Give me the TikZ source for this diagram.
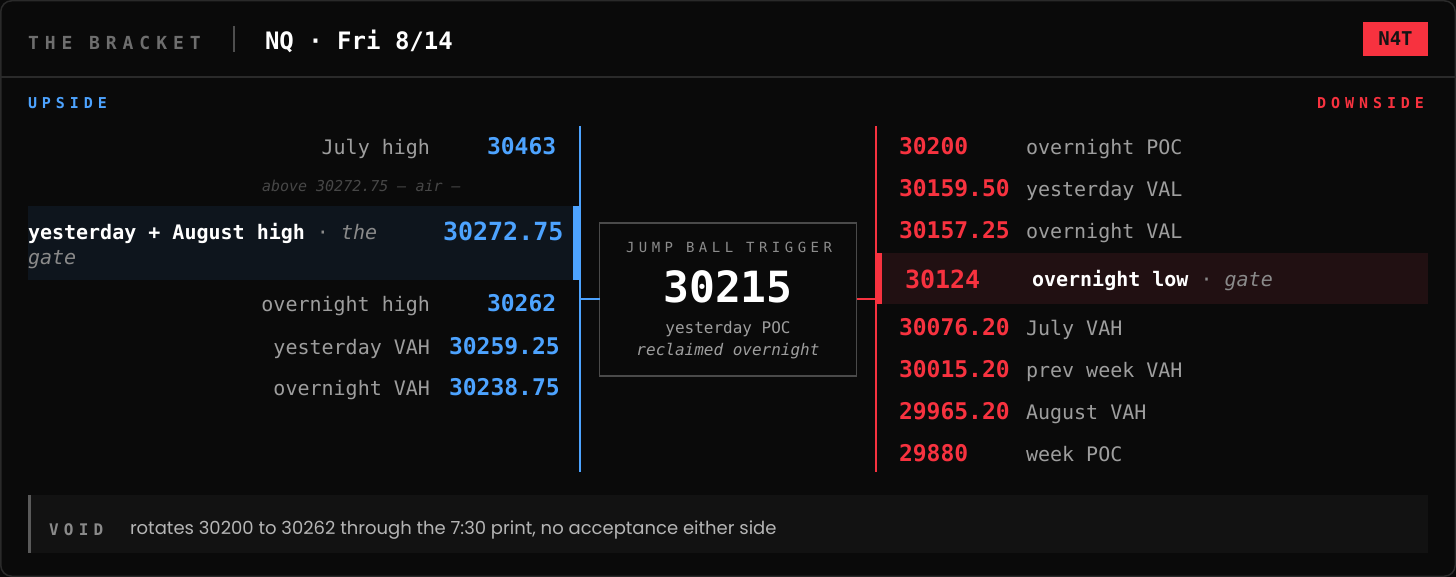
\documentclass[tikz,border=0pt]{standalone}
\usepackage{fontspec}
\setmainfont{DejaVu Sans Mono}
\newfontfamily\mono{DejaVu Sans Mono}
\newfontfamily\monotrk[LetterSpace=33]{DejaVu Sans Mono}
\newfontfamily\monotrb[LetterSpace=32]{DejaVu Sans Mono}
\newfontfamily\foot{Poppins}
\definecolor{pagebg}{HTML}{0A0A0A}
\definecolor{cardbg}{HTML}{0A0A0A}
\definecolor{cardedge}{HTML}{2A2A2A}
\definecolor{hdrgray}{HTML}{6E6E6E}
\definecolor{divgray}{HTML}{4E4E4E}
\definecolor{upblue}{HTML}{4DA3FF}
\definecolor{dnred}{HTML}{F7323F}
\definecolor{labgray}{HTML}{9E9E9E}
\definecolor{airgray}{HTML}{474747}
\definecolor{gategray}{HTML}{8A8A8A}
\definecolor{uphl}{HTML}{0E151D}
\definecolor{dnhl}{HTML}{211012}
\definecolor{boxedge}{HTML}{4A4A4A}
\definecolor{trigray}{HTML}{8C8C8C}
\definecolor{footbg}{HTML}{121212}
\definecolor{footbar}{HTML}{5A5A5A}
\definecolor{foottext}{HTML}{B5B5B5}
\definecolor{badgetext}{HTML}{141414}
\begin{document}
\begin{tikzpicture}[x=1pt,y=-1pt,
  every node/.style={inner sep=0pt,outer sep=0pt},
  lab/.style={font=\fontsize{20}{24}\selectfont\mono, text=labgray},
  upval/.style={font=\fontsize{23}{27}\selectfont\mono\bfseries, text=upblue, anchor=base west},
  dnval/.style={font=\fontsize{23}{27}\selectfont\mono\bfseries, text=dnred, anchor=base west},
  uplab/.style={lab, anchor=base east},
  dnlab/.style={lab, anchor=base west},
  tracked/.style={font=\fontsize{#1}{#1}\selectfont\monotrk\bfseries},
  blueline/.style={draw=upblue, line width=2pt},
  redline/.style={draw=dnred, line width=2pt}
]
\fill[pagebg] (0,0) rectangle (1456,577);
\useasboundingbox (0,0) rectangle (1456,577);
\draw[cardedge, fill=cardbg, rounded corners=11pt, line width=1.5pt] (0.75,0.75) rectangle (1455.25,576.25);

% header
\node[tracked=18, text=hdrgray, anchor=base west] (title) at (28,50) {THE BRACKET};
\draw[divgray, line width=2.5pt] (234,26) -- (234,52);
\node[font=\fontsize{24}{28}\selectfont\mono\bfseries, text=white, anchor=base west] (sym) at (265,50) {NQ · Fri 8/14};
\fill[dnred] (1363,22) rectangle (1428,56);
\node[font=\fontsize{19}{22}\selectfont\mono\bfseries, text=badgetext, anchor=base] (badge) at (1395.5,46) {N4T};
\draw[cardedge, line width=1.5pt] (1,77) -- (1455,77);

\node[tracked=15, text=upblue, anchor=base west] (upside) at (28,109) {UPSIDE};
\node[tracked=15, text=dnred, anchor=base east] (downside) at (1424,109) {DOWNSIDE};

% highlight rows
\fill[uphl] (28,206) rectangle (580,280);
\fill[upblue] (573,206) rectangle (581,280);
\fill[dnhl] (876,253) rectangle (1428,304);
\fill[dnred] (875,253) rectangle (882,304);

% spines
\coordinate (btop) at (580,126);
\coordinate (bbot) at (580,472);
\coordinate (rtop) at (876,126);
\coordinate (rbot) at (876,472);
\draw[blueline] (btop) -- (bbot);
\draw[redline] (rtop) -- (rbot);

% center box
\node[draw=boxedge, line width=1.5pt, fill=cardbg, minimum width=257pt, minimum height=153pt] (box) at (728,299.5) {};
\draw[blueline] (box.west) -- (box.west -| btop);
\draw[redline] (box.east) -- (box.east -| rtop);
\node[font=\fontsize{14}{16}\selectfont\monotrb, text=trigray, anchor=base] (trig) at (729,253) {JUMP BALL TRIGGER};
\node[font=\fontsize{43}{46}\selectfont\mono\bfseries, text=white, anchor=base] (poc) at (728,302) {30215};
\node[font=\fontsize{16}{19}\selectfont\mono, text=labgray, anchor=base] (ypoc) at (728,333) {yesterday POC};
\node[font=\fontsize{16}{19}\selectfont\mono\itshape, text=labgray, anchor=base] (recl) at (728,355) {reclaimed overnight};

% upside rows
\node[uplab] (l1) at (430,155) {July high};
\node[upval] (v1) at (487,155) {30463};
\node[font=\fontsize{15}{18}\selectfont\mono\itshape, text=airgray, anchor=base west] (air) at (262,192) {above 30272.75 — air —};
\node[font=\fontsize{20}{24}\selectfont\mono, anchor=base west] (l2) at (28,240) {\textcolor{white}{\bfseries yesterday + August high}\textcolor{gategray}{~·~\itshape the}};
\node[font=\fontsize{20}{24}\selectfont\mono\itshape, text=gategray, anchor=base west] (l2b) at (28,265) {gate};
\node[font=\fontsize{25}{29}\selectfont\mono\bfseries, text=upblue, anchor=base west] (v2) at (443,241) {30272.75};
\node[uplab] (l3) at (430,312) {overnight high};
\node[upval] (v3) at (487,312) {30262};
\node[uplab] (l4) at (430,354) {yesterday VAH};
\node[upval] (v4) at (449,354) {30259.25};
\node[uplab] (l5) at (430,395) {overnight VAH};
\node[upval] (v5) at (449,395) {30238.75};

% downside rows
\node[dnval] (r1) at (899,155) {30200};
\node[dnlab] (d1) at (1026,155) {overnight POC};
\node[dnval] (r2) at (899,197) {30159.50};
\node[dnlab] (d2) at (1026,197) {yesterday VAL};
\node[dnval] (r3) at (899,239) {30157.25};
\node[dnlab] (d3) at (1026,239) {overnight VAL};
\node[font=\fontsize{25}{29}\selectfont\mono\bfseries, text=dnred, anchor=base west] (r4) at (905,288) {30124};
\node[font=\fontsize{20}{24}\selectfont\mono, anchor=base west] (d4) at (1032,287) {\textcolor{white}{\bfseries overnight low}\textcolor{gategray}{~·~\itshape gate}};
\node[dnval] (r5) at (899,335) {30076.20};
\node[dnlab] (d5) at (1026,335) {July VAH};
\node[dnval] (r6) at (899,377) {30015.20};
\node[dnlab] (d6) at (1026,377) {prev week VAH};
\node[dnval] (r7) at (899,419) {29965.20};
\node[dnlab] (d7) at (1026,419) {August VAH};
\node[dnval] (r8) at (899,461) {29880};
\node[dnlab] (d8) at (1026,461) {week POC};

% footer
\fill[footbg] (28,495) rectangle (1428,553);
\fill[footbar] (28,495) rectangle (31,553);
\node[tracked=16, text=gategray, anchor=base west] (void) at (49,535) {VOID};
\node[font=\fontsize{18}{21}\selectfont\foot, text=foottext, anchor=base west] (note) at (130,534) {rotates 30200 to 30262 through the 7:30 print, no acceptance either side};
\end{tikzpicture}
\end{document}
